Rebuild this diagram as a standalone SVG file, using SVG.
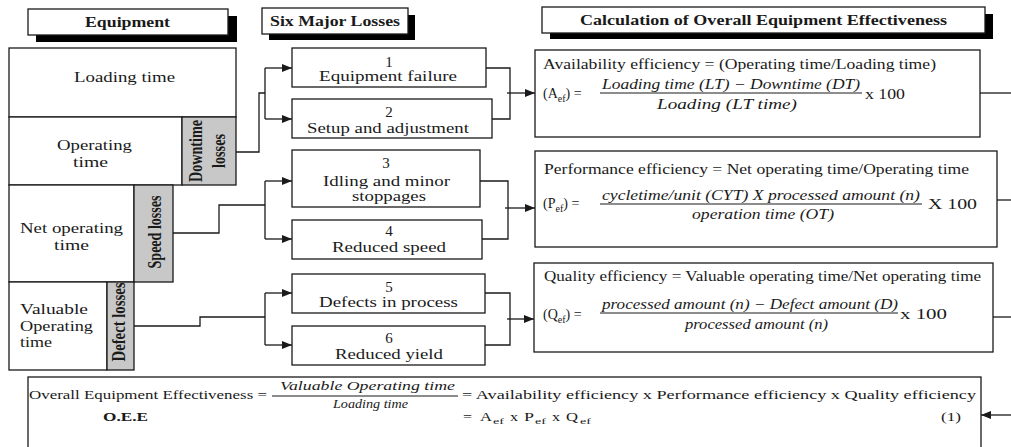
<svg xmlns="http://www.w3.org/2000/svg" width="1011" height="447" viewBox="0 0 1011 447">
<style>
.box{fill:#fff;stroke:#1a1a1a;stroke-width:1.3}
.gray{fill:#c8c8c8;stroke:#1a1a1a;stroke-width:1.3}
.shadow{fill:#000}
text{font-family:"Liberation Serif","Times New Roman",serif;fill:#1a1a1a}
.t{font-size:15px}
.f{font-size:14px}
.b{font-size:13px}
.s{font-size:9px}
.hdr{font-size:14px;font-weight:bold}
.rot{font-size:18px;font-weight:bold}
.it{font-style:italic}
.mid{text-anchor:middle}
.conn path{fill:none;stroke:#1a1a1a;stroke-width:1.3}
.frac{stroke:#1a1a1a;stroke-width:1}
</style>
<defs>
<marker id="ah" viewBox="0 0 10 8" refX="10" refY="4" markerWidth="10" markerHeight="8" markerUnits="userSpaceOnUse" orient="auto"><path d="M0,0 L10,4 L0,8 z" fill="#1a1a1a"/></marker>
</defs>

<!-- headers -->
<g id="hdr-equipment">
<rect class="shadow" x="36" y="16" width="201" height="26"/>
<rect class="box" x="28" y="9" width="200" height="26"/>
<text class="hdr" x="85" y="27" textLength="85" lengthAdjust="spacingAndGlyphs">Equipment</text>
</g>
<g id="hdr-losses">
<rect class="shadow" x="269" y="15" width="146" height="25"/>
<rect class="box" x="262" y="8" width="146" height="26"/>
<text class="hdr" x="270" y="26" textLength="130" lengthAdjust="spacingAndGlyphs">Six Major Losses</text>
</g>
<g id="hdr-calc">
<rect class="shadow" x="550" y="14" width="443" height="25"/>
<rect class="box" x="542" y="7" width="443" height="26"/>
<text class="hdr" x="580" y="25" textLength="367" lengthAdjust="spacingAndGlyphs">Calculation of Overall Equipment Effectiveness</text>
</g>

<!-- equipment block -->
<g id="loading-time">
<rect class="box" x="9" y="48" width="227" height="69"/>
<text class="t" x="74" y="82" textLength="101" lengthAdjust="spacingAndGlyphs">Loading time</text>
</g>
<g id="operating-time">
<rect class="box" x="9" y="117" width="173" height="68"/>
<text class="t" x="57" y="150" textLength="75" lengthAdjust="spacingAndGlyphs">Operating</text>
<text class="t" x="73" y="167" textLength="35" lengthAdjust="spacingAndGlyphs">time</text>
</g>
<g id="downtime-losses">
<rect class="gray" x="182" y="117" width="54" height="68"/>
<text class="rot mid" transform="translate(202,151) rotate(-90)" textLength="62" lengthAdjust="spacingAndGlyphs">Downtime</text>
<text class="rot mid" transform="translate(225,151) rotate(-90)" textLength="34" lengthAdjust="spacingAndGlyphs">losses</text>
</g>
<g id="net-operating-time">
<rect class="box" x="9" y="185" width="125" height="97"/>
<text class="t" x="20" y="233" textLength="103" lengthAdjust="spacingAndGlyphs">Net operating</text>
<text class="t" x="54" y="250" textLength="35" lengthAdjust="spacingAndGlyphs">time</text>
</g>
<g id="speed-losses">
<rect class="gray" x="134" y="185" width="39" height="97"/>
<text class="rot mid" transform="translate(161,232) rotate(-90)" textLength="73" lengthAdjust="spacingAndGlyphs">Speed losses</text>
</g>
<g id="valuable-operating-time">
<rect class="box" x="9" y="282" width="98" height="88"/>
<text class="t" x="20" y="314" textLength="68" lengthAdjust="spacingAndGlyphs">Valuable</text>
<text class="t" x="20" y="331" textLength="73" lengthAdjust="spacingAndGlyphs">Operating</text>
<text class="t" x="20" y="347" textLength="32" lengthAdjust="spacingAndGlyphs">time</text>
</g>
<g id="defect-losses">
<rect class="gray" x="107" y="282" width="27" height="88"/>
<text class="rot mid" transform="translate(125,322) rotate(-90)" textLength="79" lengthAdjust="spacingAndGlyphs">Defect losses</text>
</g>

<!-- six losses -->
<g id="loss-1">
<rect class="box" x="292" y="48" width="194" height="39"/>
<text class="t mid" x="389" y="67">1</text>
<text class="t" x="319" y="81" textLength="138" lengthAdjust="spacingAndGlyphs">Equipment failure</text>
</g>
<g id="loss-2">
<rect class="box" x="292" y="99" width="200" height="39"/>
<text class="t mid" x="389" y="117">2</text>
<text class="t" x="307" y="133" textLength="162" lengthAdjust="spacingAndGlyphs">Setup and adjustment</text>
</g>
<g id="loss-3">
<rect class="box" x="292" y="150" width="188" height="57"/>
<text class="t mid" x="386" y="168">3</text>
<text class="t" x="323" y="186" textLength="127" lengthAdjust="spacingAndGlyphs">Idling and minor</text>
<text class="t" x="352" y="201" textLength="74" lengthAdjust="spacingAndGlyphs">stoppages</text>
</g>
<g id="loss-4">
<rect class="box" x="292" y="220" width="190" height="39"/>
<text class="t mid" x="389" y="236">4</text>
<text class="t" x="332" y="252" textLength="114" lengthAdjust="spacingAndGlyphs">Reduced speed</text>
</g>
<g id="loss-5">
<rect class="box" x="292" y="274" width="193" height="39"/>
<text class="t mid" x="389" y="292">5</text>
<text class="t" x="319" y="307" textLength="139" lengthAdjust="spacingAndGlyphs">Defects in process</text>
</g>
<g id="loss-6">
<rect class="box" x="292" y="326" width="193" height="39"/>
<text class="t mid" x="389" y="343">6</text>
<text class="t" x="335" y="359" textLength="108" lengthAdjust="spacingAndGlyphs">Reduced yield</text>
</g>

<!-- formula boxes -->
<g id="availability">
<rect class="box" x="535" y="50" width="445" height="87"/>
<text class="f" x="543" y="69" textLength="393" lengthAdjust="spacingAndGlyphs">Availability efficiency = (Operating time/Loading time)</text>
<text class="f" x="543" y="98">(A<tspan font-size="10" dy="4">ef</tspan><tspan dy="-4">) =</tspan></text>
<text class="f it" x="602" y="89" textLength="258" lengthAdjust="spacingAndGlyphs">Loading time (LT) − Downtime (DT)</text>
<line class="frac" x1="600" y1="93" x2="862" y2="93"/>
<text class="f it" x="657" y="109" textLength="140" lengthAdjust="spacingAndGlyphs">Loading (LT time)</text>
<text class="f" x="865" y="99" textLength="40" lengthAdjust="spacingAndGlyphs">x 100</text>
</g>
<g id="performance">
<rect class="box" x="535" y="151" width="462" height="96"/>
<text class="f" x="544" y="174" textLength="425" lengthAdjust="spacingAndGlyphs">Performance efficiency = Net operating time/Operating time</text>
<text class="f" x="543" y="208">(P<tspan font-size="10" dy="4">ef</tspan><tspan dy="-4">) =</tspan></text>
<text class="f it" x="602" y="200" textLength="318" lengthAdjust="spacingAndGlyphs">cycletime/unit (CYT) X processed amount (n)</text>
<line class="frac" x1="600" y1="204" x2="922" y2="204"/>
<text class="f it" x="692" y="219" textLength="142" lengthAdjust="spacingAndGlyphs">operation  time (OT)</text>
<text class="f" x="928" y="209" textLength="49" lengthAdjust="spacingAndGlyphs">X 100</text>
</g>
<g id="quality">
<rect class="box" x="534" y="263" width="459" height="89"/>
<text class="f" x="544" y="281" textLength="437" lengthAdjust="spacingAndGlyphs">Quality efficiency = Valuable operating time/Net operating time</text>
<text class="f" x="543" y="319">(Q<tspan font-size="10" dy="4">ef</tspan><tspan dy="-4">) =</tspan></text>
<text class="f it" x="602" y="309" textLength="296" lengthAdjust="spacingAndGlyphs">processed amount (n) − Defect amount (D)</text>
<line class="frac" x1="600" y1="313" x2="898" y2="313"/>
<text class="f it" x="685" y="329" textLength="143" lengthAdjust="spacingAndGlyphs">processed amount (n)</text>
<text class="f" x="900" y="319" textLength="47" lengthAdjust="spacingAndGlyphs">x 100</text>
</g>

<g id="oee">
<rect class="box" x="28" y="377" width="953" height="90"/>
<text class="b" x="29" y="399" textLength="238" lengthAdjust="spacingAndGlyphs">Overall Equipment Effectiveness =</text>
<text class="b it" x="280" y="390" textLength="175" lengthAdjust="spacingAndGlyphs">Valuable Operating time</text>
<line class="frac" x1="272" y1="396" x2="458" y2="396"/>
<text class="b it" x="333" y="408" textLength="75" lengthAdjust="spacingAndGlyphs">Loading time</text>
<text class="b" x="462" y="399" textLength="514" lengthAdjust="spacingAndGlyphs">= Availability efficiency x Performance efficiency  x Quality efficiency</text>
<text class="b" x="103" y="421" font-weight="bold" textLength="45" lengthAdjust="spacingAndGlyphs">O.E.E</text>
<text class="b" x="463" y="421" textLength="9" lengthAdjust="spacingAndGlyphs">=</text>
<text class="b" x="480" y="421" textLength="12" lengthAdjust="spacingAndGlyphs">A</text>
<text class="s" x="493" y="424" textLength="11" lengthAdjust="spacingAndGlyphs">ef</text>
<text class="b" x="510" y="421" textLength="8" lengthAdjust="spacingAndGlyphs">x</text>
<text class="b" x="524" y="421" textLength="10" lengthAdjust="spacingAndGlyphs">P</text>
<text class="s" x="535" y="424" textLength="11" lengthAdjust="spacingAndGlyphs">ef</text>
<text class="b" x="552" y="421" textLength="8" lengthAdjust="spacingAndGlyphs">x</text>
<text class="b" x="566" y="421" textLength="12" lengthAdjust="spacingAndGlyphs">Q</text>
<text class="s" x="580" y="424" textLength="11" lengthAdjust="spacingAndGlyphs">ef</text>
<text class="b" x="941" y="421" textLength="20" lengthAdjust="spacingAndGlyphs">(1)</text>
</g>

<g id="connectors" class="conn">
<path d="M236,152 H259 V93 H265"/>
<path d="M265,68 V119"/>
<path d="M265,68 H292" marker-end="url(#ah)"/>
<path d="M265,119 H292" marker-end="url(#ah)"/>
<path d="M486,68 H510 V119 H492"/>
<path d="M507,93 H535" marker-end="url(#ah)"/>
<path d="M173,233 H219 V205 H265"/>
<path d="M265,181 V239"/>
<path d="M265,181 H292" marker-end="url(#ah)"/>
<path d="M265,239 H292" marker-end="url(#ah)"/>
<path d="M480,181 H508 V239 H482"/>
<path d="M505,208 H535" marker-end="url(#ah)"/>
<path d="M134,326 H200 V317 H265"/>
<path d="M265,293 V345"/>
<path d="M265,293 H292" marker-end="url(#ah)"/>
<path d="M265,345 H292" marker-end="url(#ah)"/>
<path d="M485,293 H510 V345 H485"/>
<path d="M507,319 H534" marker-end="url(#ah)"/>
<path d="M980,93 H1011"/>
<path d="M997,200 H1011"/>
<path d="M993,317 H1011"/>
<path d="M1011,415 H981" marker-end="url(#ah)"/>
</g>
</svg>
